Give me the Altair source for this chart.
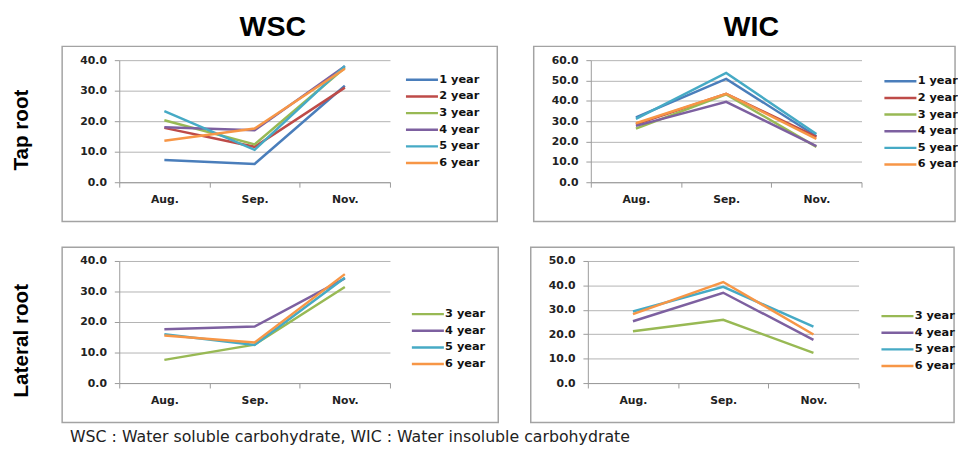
import altair as alt
import pandas as pd

months = ["Aug.", "Sep.", "Nov."]
years = ["1 year", "2 year", "3 year", "4 year", "5 year", "6 year"]
colors = ["#4A7EBB", "#BE4B48", "#98B954", "#7D60A0", "#46AAC5", "#F79646"]

# WSC, tap root
wsc_tap_1y = [7.3, 6.0, 31.6]
wsc_tap_2y = [17.8, 11.6, 31.0]
wsc_tap_3y = [20.3, 12.4, 37.5]
wsc_tap_4y = [18.0, 17.0, 38.0]
wsc_tap_5y = [23.3, 10.6, 38.1]
wsc_tap_6y = [13.6, 17.6, 37.2]

# WIC, tap root
wic_tap_1y = [31.9, 50.8, 22.6]
wic_tap_2y = [28.5, 43.5, 22.3]
wic_tap_3y = [26.3, 43.2, 17.4]
wic_tap_4y = [27.7, 39.5, 17.7]
wic_tap_5y = [31.1, 53.7, 23.7]
wic_tap_6y = [29.0, 43.5, 21.3]

# WSC, lateral root
wsc_lat_3y = [7.6, 12.6, 31.5]
wsc_lat_4y = [17.6, 18.5, 34.3]
wsc_lat_5y = [16.0, 12.5, 34.5]
wsc_lat_6y = [15.6, 13.3, 35.7]

# WIC, lateral root
wic_lat_3y = [21.2, 25.9, 12.4]
wic_lat_4y = [25.3, 37.0, 17.7]
wic_lat_5y = [29.3, 39.4, 23.1]
wic_lat_6y = [28.2, 41.4, 19.9]

caption = "WSC : Water soluble carbohydrate, WIC : Water insoluble carbohydrate"

W, H = 275, 124
AXIS_FONT = "DejaVu Sans"
BOX_COLOR = "#A3A3A3"


def one():
    return alt.Data(values=[{"k": 0}])


def panel(series_values, ymax, box_right, leg_xy, title=None, title_x=0, row_label=None, row_y=0):
    series = list(series_values.keys())
    rows = []
    for s in series:
        for m, v in zip(months, series_values[s]):
            rows.append({"month": m, "series": s, "value": v})
    df = pd.DataFrame(rows)
    cols = [colors[years.index(s)] for s in series]

    lines = alt.Chart(df).mark_line(strokeWidth=2.5).encode(
        x=alt.X(
            "month:N",
            sort=months,
            bandPosition=0.5,
            scale=alt.Scale(type="band", domain=months, paddingInner=0, paddingOuter=0),
            axis=alt.Axis(title=None, labelAngle=0, tickBand="extent", grid=False,
                          labelPadding=7, tickSize=5),
        ),
        y=alt.Y(
            "value:Q",
            scale=alt.Scale(domain=[0, ymax], nice=False, zero=True),
            axis=alt.Axis(title=None, values=list(range(0, ymax + 1, 10)), format=".1f",
                          grid=True, labelPadding=8, tickSize=5),
        ),
        color=alt.Color(
            "series:N",
            sort=series,
            scale=alt.Scale(domain=series, range=cols),
            legend=alt.Legend(
                title=None, orient="none", legendX=leg_xy[0], legendY=leg_xy[1],
                symbolType="M-3.1,0H3.1", symbolSize=110, symbolStrokeWidth=2.5,
                labelOffset=11, rowPadding=4.9, padding=0,
                labelFont=AXIS_FONT, labelFontWeight="bold", labelFontSize=11.5,
                labelColor="#111111",
            ),
        ),
    )

    box = alt.Chart(one()).mark_rect(fillOpacity=0, stroke=BOX_COLOR, strokeWidth=1.5).encode(
        x=alt.value(-58), x2=alt.value(box_right), y=alt.value(-14), y2=alt.value(H + 40)
    )
    layers = [box, lines]
    if title:
        layers.append(
            alt.Chart(one()).mark_text(
                text=title, font="Liberation Sans", fontWeight="bold", fontSize=29,
                align="center", baseline="top", color="#000000",
            ).encode(x=alt.value(title_x), y=alt.value(-47.5))
        )
    if row_label:
        layers.append(
            alt.Chart(one()).mark_text(
                text=row_label, font="Liberation Sans", fontWeight="bold", fontSize=21,
                align="center", baseline="middle", angle=270, color="#000000",
            ).encode(x=alt.value(-99), y=alt.value(row_y))
        )
    return alt.layer(*layers).properties(width=W, height=H)


p1 = panel(
    {"1 year": wsc_tap_1y, "2 year": wsc_tap_2y, "3 year": wsc_tap_3y,
     "4 year": wsc_tap_4y, "5 year": wsc_tap_5y, "6 year": wsc_tap_6y},
    40, 384, (301, 13.5), title="WSC", title_x=156, row_label="Tap root", row_y=71,
)
p2 = panel(
    {"1 year": wic_tap_1y, "2 year": wic_tap_2y, "3 year": wic_tap_3y,
     "4 year": wic_tap_4y, "5 year": wic_tap_5y, "6 year": wic_tap_6y},
    60, 370, (308, 15), title="WIC", title_x=163,
)
p3 = panel(
    {"3 year": wsc_lat_3y, "4 year": wsc_lat_4y, "5 year": wsc_lat_5y, "6 year": wsc_lat_6y},
    40, 385, (307, 47.5), row_label="Lateral root", row_y=81,
)
p4 = panel(
    {"3 year": wic_lat_3y, "4 year": wic_lat_4y, "5 year": wic_lat_5y, "6 year": wic_lat_6y},
    50, 372, (308, 49.5),
)


def indep(c):
    return c.resolve_scale(x="independent", y="independent", color="independent").resolve_legend(
        color="independent"
    )


row1 = indep(alt.hconcat(p1, p2, spacing=35))
row2 = indep(alt.hconcat(p3, p4, spacing=31))

chart = indep(alt.vconcat(row1, row2, spacing=24)).properties(
    title=alt.TitleParams(
        caption, orient="bottom", anchor="start", dx=60, offset=6,
        font="DejaVu Sans", fontSize=16, fontWeight="normal", color="#222222",
    ),
    padding={"left": 3, "top": 1.5, "right": 0, "bottom": 0},
).configure_view(stroke=None).configure_axis(
    domainColor="#9A9A9A", tickColor="#9A9A9A", gridColor="#B3B3B3",
    labelFont=AXIS_FONT, labelFontWeight="bold", labelFontSize=11, labelColor="#222222",
)

chart.save("out.html", embed_options={"renderer": "svg", "actions": False})
